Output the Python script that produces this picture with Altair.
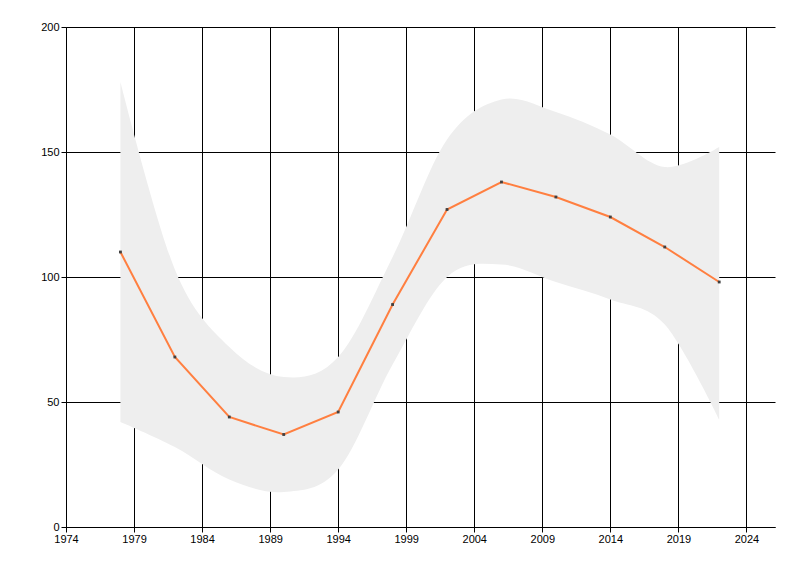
import altair as alt
import pandas as pd

years = [1978, 1982, 1986, 1990, 1994, 1998, 2002, 2006, 2010, 2014, 2018, 2022]
values = [110, 68, 44, 37, 46, 89, 127, 138, 132, 124, 112, 98]
upper = [178, 103, 72, 60, 68, 108, 155, 171, 166, 157, 144, 152]
lower = [42, 32, 19, 14, 23, 65, 100, 105, 98, 91, 81, 43]
x_ticks = [1974, 1979, 1984, 1989, 1994, 1999, 2004, 2009, 2014, 2019, 2024]
y_ticks = [0, 50, 100, 150, 200]

df = pd.DataFrame({"year": years, "value": values, "upper": upper, "lower": lower})

x_scale = alt.Scale(domain=[1974, 2026.1], nice=False, zero=False)
y_scale = alt.Scale(domain=[0, 200], nice=False)

x_axis = alt.Axis(values=x_ticks, format="d", title=None, grid=True,
                  gridColor="black", gridOpacity=1, gridWidth=1,
                  domainColor="black", tickColor="black", tickSize=5,
                  labelColor="black", labelFont="Liberation Sans", labelFontSize=11,
                  labelPadding=1, labelFlush=False)
y_axis = alt.Axis(values=y_ticks, title=None, grid=True,
                  gridColor="black", gridOpacity=1, gridWidth=1,
                  domainColor="black", tickColor="black", tickSize=5,
                  labelColor="black", labelFont="Liberation Sans", labelFontSize=11,
                  labelPadding=2)

band = alt.Chart(df).mark_area(color="#EEEEEE", opacity=1, interpolate="cardinal").encode(
    x=alt.X("year:Q", scale=x_scale, axis=x_axis),
    y=alt.Y("upper:Q", scale=y_scale, axis=y_axis),
    y2="lower:Q",
)

line = alt.Chart(df).mark_line(color="#FF7F40", strokeWidth=2).encode(
    x=alt.X("year:Q", scale=x_scale, axis=x_axis),
    y=alt.Y("value:Q", scale=y_scale, axis=y_axis),
)

pts = alt.Chart(df).mark_point(shape="square", filled=True, color="#404040", size=8, opacity=1).encode(
    x=alt.X("year:Q", scale=x_scale, axis=x_axis),
    y=alt.Y("value:Q", scale=y_scale, axis=y_axis),
)

chart = alt.layer(band, line, pts).properties(
    width=709, height=500,
    background="white",
    autosize=alt.AutoSizeParams(type="none"),
    padding={"left": 58, "top": 19, "right": 10, "bottom": 30},
).configure_view(strokeWidth=0, stroke="transparent")

chart.save("out.html", embed_options={"renderer": "svg", "actions": False})
